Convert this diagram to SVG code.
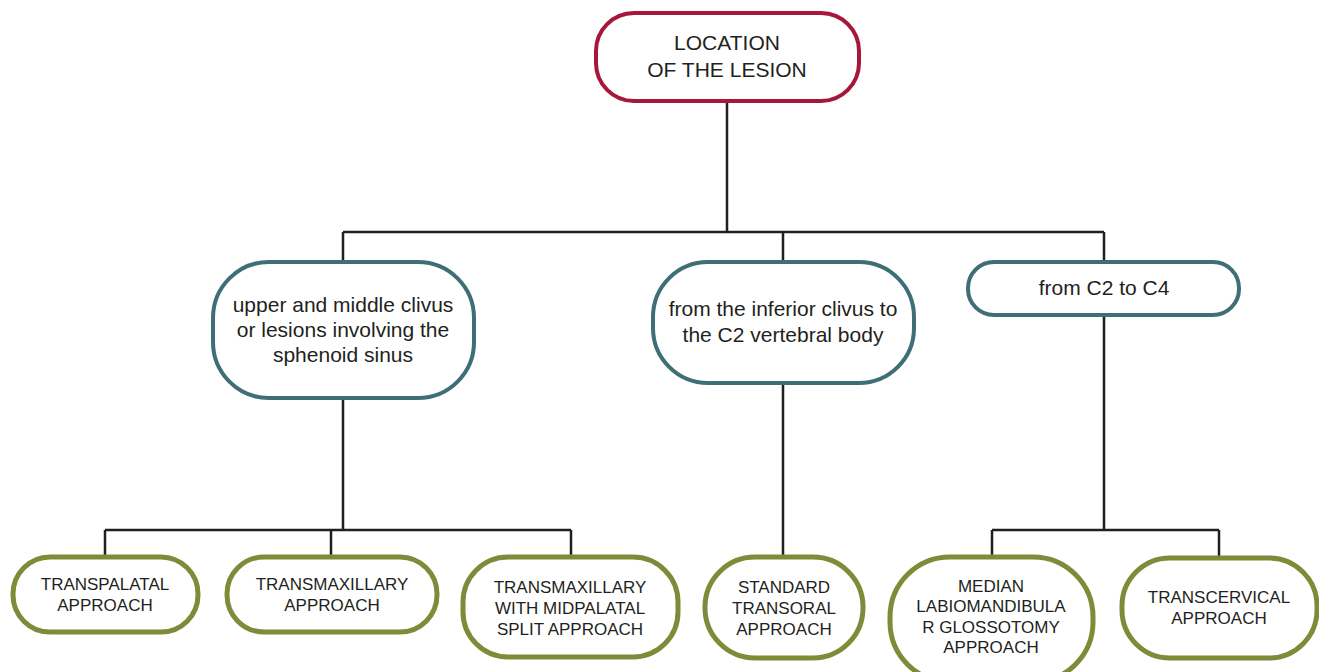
<svg xmlns="http://www.w3.org/2000/svg" width="1319" height="672" viewBox="0 0 1319 672">
<style>
.bg{fill:#ffffff}
.n{fill:#ffffff}
.root{stroke:#A6173B;stroke-width:4}
.mid{stroke:#3E6F76;stroke-width:4}
.leaf{stroke:#7E8B38;stroke-width:5}
.t{font-family:"Liberation Sans",Arial,sans-serif;fill:#231F20;text-anchor:middle}
.tl{font-size:21px}
.ts{font-size:17px}
.c{fill:none;stroke:#231F20;stroke-width:2.5}
</style>
<rect class="bg" width="1319" height="672"/>
<g id="connectors">
<path class="c" d="M727 101V232M343 232H1104M343 232V262M783 232V262M1104 232V262"/>
<path class="c" d="M343 399V530M105 530H571M105 530V557M331 530V557M571 530V557"/>
<path class="c" d="M783 383V557"/>
<path class="c" d="M1104 315V530M992 530H1219M992 530V557M1219 530V558"/>
</g>
<g id="root">
<rect class="n root" x="596" y="13" width="263" height="88" rx="38"/>
<text class="t tl" x="727" y="50">LOCATION</text>
<text class="t tl" x="727" y="77">OF THE LESION</text>
</g>
<g id="upper">
<rect class="n mid" x="213" y="262" width="261" height="136" rx="56"/>
<text class="t tl" x="343" y="312">upper and middle clivus</text>
<text class="t tl" x="343" y="337">or lesions involving the</text>
<text class="t tl" x="343" y="362">sphenoid sinus</text>
</g>
<g id="inferior">
<rect class="n mid" x="653" y="262" width="261" height="121" rx="55"/>
<text class="t tl" x="783" y="316">from the inferior clivus to</text>
<text class="t tl" x="783" y="342">the C2 vertebral body</text>
</g>
<g id="c2c4">
<rect class="n mid" x="968" y="262" width="271" height="53" rx="26"/>
<text class="t tl" x="1104" y="295">from C2 to C4</text>
</g>
<g id="transpalatal">
<rect class="n leaf" x="13" y="557" width="185" height="75" rx="37"/>
<text class="t ts" x="105" y="590">TRANSPALATAL</text>
<text class="t ts" x="105" y="611">APPROACH</text>
</g>
<g id="transmaxillary">
<rect class="n leaf" x="227" y="557" width="210" height="75" rx="37"/>
<text class="t ts" x="332" y="590">TRANSMAXILLARY</text>
<text class="t ts" x="332" y="611">APPROACH</text>
</g>
<g id="midpalatal">
<rect class="n leaf" x="463" y="557" width="215" height="100" rx="45"/>
<text class="t ts" x="570" y="593">TRANSMAXILLARY</text>
<text class="t ts" x="570" y="614">WITH MIDPALATAL</text>
<text class="t ts" x="570" y="635">SPLIT APPROACH</text>
</g>
<g id="transoral">
<rect class="n leaf" x="705" y="557" width="158" height="101" rx="50"/>
<text class="t ts" x="784" y="593">STANDARD</text>
<text class="t ts" x="784" y="614">TRANSORAL</text>
<text class="t ts" x="784" y="635">APPROACH</text>
</g>
<g id="median">
<rect class="n leaf" x="890" y="557" width="203" height="125" rx="60"/>
<text class="t ts" x="991" y="592">MEDIAN</text>
<text class="t ts" x="991" y="612">LABIOMANDIBULA</text>
<text class="t ts" x="991" y="633">R GLOSSOTOMY</text>
<text class="t ts" x="991" y="653">APPROACH</text>
</g>
<g id="transcervical">
<rect class="n leaf" x="1122" y="558" width="195" height="100" rx="48"/>
<text class="t ts" x="1219" y="603">TRANSCERVICAL</text>
<text class="t ts" x="1219" y="624">APPROACH</text>
</g>
</svg>
